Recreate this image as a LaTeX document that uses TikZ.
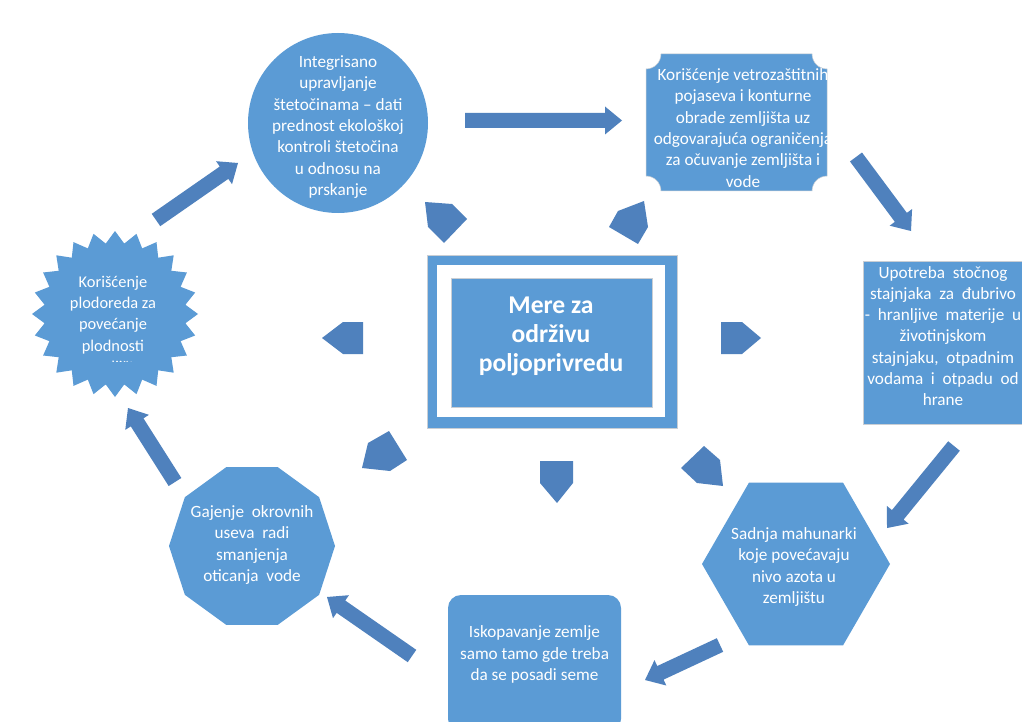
\documentclass[tikz,border=0pt]{standalone}
\usepackage{fontspec}
\setmainfont{Carlito}
\usetikzlibrary{shapes.geometric,calc}
\definecolor{shapeblue}{HTML}{5B9BD5}
\definecolor{arrowblue}{HTML}{4F81BD}
\definecolor{edgegray}{HTML}{C9CED4}
\newcommand\widesp{\spaceskip 0.45em plus 0.1em\relax}
\tikzset{
  shp/.style={fill=shapeblue, draw=none, inner sep=0pt},
  txt/.style={text=white, align=center, inner sep=0pt, font=\fontsize{17.2}{21.3}\selectfont},
  widetxt/.style={text=white, align=center, inner sep=0pt, font=\fontsize{17.2}{21.3}\selectfont\widesp},
  blk/.style={fill=arrowblue},
  pent/.style={fill=arrowblue},
}
\newcommand\blockarr[2]{%
  \coordinate (#1-h) at ($(#2)!17pt!(#1)$);
  \fill[blk] ($(#1)!7.5pt!90:(#2)$) -- ($(#1-h)!7.5pt!90:(#2)$) -- ($(#1-h)!14pt!90:(#2)$) -- (#2)
    -- ($(#1-h)!14pt!-90:(#2)$) -- ($(#1-h)!7.5pt!-90:(#2)$) -- ($(#1)!7.5pt!-90:(#2)$) -- cycle;}
\begin{document}
\begin{tikzpicture}[x=1pt,y=-1pt]
\useasboundingbox (0,0) rectangle (1022,722);
\fill[white] (0,0) rectangle (1022,722);

% ---- central frame ----
\fill[shapeblue, draw=edgegray, line width=0.6pt] (427,255) rectangle (677,428);
\fill[white] (437,265) rectangle (665,417);
\node[shp, draw=edgegray, line width=0.6pt, minimum width=201pt, minimum height=129pt] (core) at (551.5,342.5) {};
\node[text=white, align=center, inner sep=0pt, font=\fontsize{25.6}{29}\selectfont\bfseries] (coretext) at (551,336) {Mere za\\održivu\\poljoprivredu};

% ---- circle ----
\node[shp, circle, minimum size=180pt] (ipm) at (338,123) {};
\node[txt] (ipmtext) at (338,127) {Integrisano\\upravljanje\\štetočinama – dati\\prednost ekološkoj\\kontroli štetočina\\u odnosu na\\prskanje};

% ---- plaque ----
\fill[shapeblue, draw=edgegray, line width=0.5pt] (661,54) -- (812,54) arc[start angle=180,end angle=270,radius=15pt]
  -- (827,176) arc[start angle=90,end angle=180,radius=15pt]
  -- (661,191) arc[start angle=0,end angle=90,radius=15pt]
  -- (646,69) arc[start angle=270,end angle=360,radius=15pt] -- cycle;
\node[txt] (wind) at (743,128) {Korišćenje vetrozaštitnih\\pojaseva i konturne\\obrade zemljišta uz\\odgovarajuća ograničenja\\za očuvanje zemljišta i\\vode};

% ---- right rectangle ----
\node[shp, draw=edgegray, line width=0.6pt, minimum width=160pt, minimum height=163pt] (manure) at (943,342.5) {};
\node[widetxt] (manuretext) at (943,336) {Upotreba stočnog\\stajnjaka za đubrivo\\- hranljive materije u\\životinjskom\\stajnjaku, otpadnim\\vodama i otpadu od\\hrane};

% ---- hexagon ----
\node[shp, regular polygon, regular polygon sides=6, minimum size=188pt] (legume) at (796,564) {};
\node[txt] (legumetext) at (794,567) {Sadnja mahunarki\\koje povećavaju\\nivo azota u\\zemljištu};

% ---- bottom rounded rectangle ----
\fill[shapeblue, rounded corners=13pt] (448,595) rectangle (621,732);
\node[txt] (tilltext) at (534.5,654.5) {Iskopavanje zemlje\\samo tamo gde treba\\da se posadi seme};

% ---- decagon ----
\node[shp, regular polygon, regular polygon sides=10, minimum size=166pt] (cover) at (252,546) {};
\node[widetxt] (covertext) at (252,545) {Gajenje okrovnih\\useva radi\\smanjenja\\oticanja vode};

% ---- 24-point star ----
\coordinate (rotation) at (115,314);
\fill[shapeblue] plot[samples at={0,...,47}, variable=\k]
  ({115+ifthenelse(mod(\k,2)==0,83,71)*cos(90+7.5*\k)}, {314-ifthenelse(mod(\k,2)==0,83,71)*sin(90+7.5*\k)}) -- cycle;
\begin{scope}
\clip (0,0) rectangle (1022,361);
\node[txt, font=\fontsize{16.4}{21.3}\selectfont] (rotationtext) at (113,325.5) {Korišćenje\\plodoreda za\\povećanje\\plodnosti\\zemljišta};
\end{scope}

% ---- block arrows ----
\coordinate (a1s) at (465,120.5); \coordinate (a1e) at (622,120.5);
\coordinate (a2s) at (156,220);   \coordinate (a2e) at (238,163);
\coordinate (a3s) at (856,157);   \coordinate (a3e) at (911,231);
\coordinate (a4s) at (954,446);   \coordinate (a4e) at (887,528);
\coordinate (a5s) at (720,645);   \coordinate (a5e) at (645,680);
\coordinate (a6s) at (412,656);   \coordinate (a6e) at (327,597);
\coordinate (a7s) at (175,482);   \coordinate (a7e) at (128,408);
\blockarr{a1s}{a1e}
\blockarr{a2s}{a2e}
\blockarr{a3s}{a3e}
\blockarr{a4s}{a4e}
\blockarr{a5s}{a5e}
\blockarr{a6s}{a6e}
\blockarr{a7s}{a7e}

% ---- small pentagon pointers ----
\fill[pent] (425,202) -- (452,204) -- (467,219) -- (444,243) -- (428,227) -- cycle;
\fill[pent] (618,211) -- (644,201) -- (648,227) -- (638,244) -- (609,227) -- cycle;
\fill[pent] (322,338) -- (343,322) -- (363,322) -- (363,354) -- (343,354) -- cycle;
\fill[pent] (721,322) -- (742,322) -- (761,338) -- (742,354) -- (721,354) -- cycle;
\fill[pent] (540,461) -- (573,461) -- (573,483) -- (557,503) -- (540,483) -- cycle;
\fill[pent] (389,431) -- (407,460) -- (390,471) -- (362,468) -- (368,443) -- cycle;
\fill[pent] (704,446) -- (720,460) -- (723,486) -- (697,483) -- (681,468) -- cycle;
\end{tikzpicture}
\end{document}
